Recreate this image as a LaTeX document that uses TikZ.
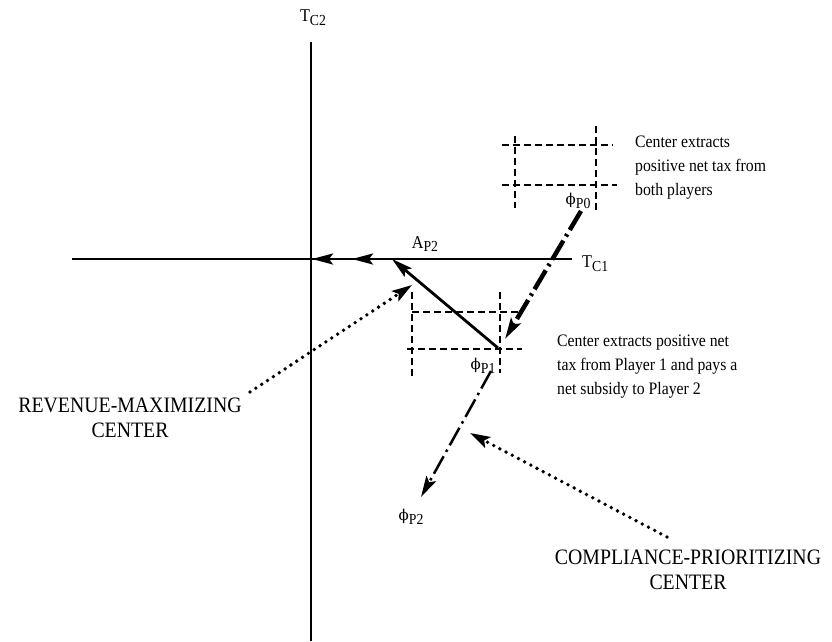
\documentclass[tikz,border=0pt]{standalone}
\usepackage{fontspec}
\setmainfont{Liberation Serif}[FakeStretch=0.9]
\newfontfamily\grk{DejaVu Serif}
\usepackage{graphicx}
\usetikzlibrary{arrows.meta}
\newcommand{\sbs}[1]{\raisebox{-0.45ex}{\scalebox{0.85}{#1}}}
\newcommand{\ph}{{\grk\fontsize{15}{15}\selectfont ϕ}}
\tikzset{
  tip/.style={-{Stealth[length=21pt,width=11pt,inset=4pt]}},
  axis/.style={line width=2.8pt},
  grid/.style={line width=2.5pt, dash pattern=on 7pt off 4pt},
  move/.style={line width=4.5pt, dash pattern=on 22pt off 5pt on 2.5pt off 5pt, tip},
  movethin/.style={line width=2.5pt, dash pattern=on 20pt off 5pt on 2.5pt off 5pt, tip},
  hint/.style={line width=3.8pt, line cap=round, dash pattern=on 0pt off 7pt,
               -{Stealth[length=20pt,width=12pt,inset=4pt]}},
  lbl/.style={font=\fontsize{18}{20}\selectfont, inner sep=0pt},
  note/.style={font=\fontsize{17.5}{24}\selectfont, align=left, inner sep=0pt, anchor=north west},
  caps/.style={font=\fontsize{22}{25}\selectfont, align=center, inner sep=0pt, anchor=north},
}
\begin{document}
\begin{tikzpicture}[x=1pt,y=-1pt]
  \useasboundingbox (0,0) rectangle (832,641);
  % axes
  \coordinate (xl) at (72,259);
  \coordinate (xr) at (572,259);
  \coordinate (yt) at (311,42);
  \coordinate (yb) at (311,641);
  \coordinate (o) at (312,259);
  \coordinate (m1) at (352,259);
  \coordinate (ap2) at (392,259);
  \draw[axis] (xl) -- (xr);
  \draw[axis] (yt) -- (yb);
  \node[lbl] (tc2) at (313,18) {T\sbs{C2}};
  \node[lbl,anchor=west] (tc1) at (582,264) {T\sbs{C1}};
  \node[lbl] (lap2) at (425,244) {A\sbs{P2}};
  \draw[axis,tip] (ap2) -- (m1);
  \draw[axis,tip] (m1) -- (o);
  % upper box around phi_P0
  \draw[grid] (515,136) -- (515,208);
  \draw[grid] (596,126) -- (596,211);
  \draw[grid] (502,145) -- (613,145);
  \draw[grid] (502,185) -- (617,185);
  \node[lbl] (lp0) at (578,201) {\ph\sbs{P0}};
  % lower box around phi_P1
  \draw[grid] (412,292) -- (412,378);
  \draw[grid] (500,292) -- (500,373);
  \draw[grid] (412,312) -- (521,312);
  \draw[grid] (407,349) -- (522,349);
  \node[lbl] (lp1) at (483,366) {\ph\sbs{P1}};
  \node[lbl] (lp2) at (411,517) {\ph\sbs{P2}};
  % moves
  \coordinate (p0s) at (581,211);
  \coordinate (p1t) at (505,339);
  \coordinate (p1) at (498,348);
  \coordinate (p1s) at (491,371);
  \coordinate (p2) at (421,497);
  \draw[move] (p0s) -- (p1t);
  \draw[movethin] (p1s) -- (p2);
  \draw[axis,tip] (p1) -- (ap2);
  % notes
  \node[note] (n0) at (635,136) {Center extracts\\positive net tax from\\both players};
  \node[note] (n1) at (557,335) {Center extracts positive net\\tax from Player 1 and pays a\\net subsidy to Player 2};
  \node[caps] (rev) at (130,398) {REVENUE-MAXIMIZING\\CENTER};
  \node[caps] (comp) at (688,550) {COMPLIANCE-PRIORITIZING\\CENTER};
  \coordinate (revs) at (250,392);
  \coordinate (revt) at (412,285);
  \coordinate (comps) at (667,537);
  \coordinate (compt) at (470,433);
  \draw[hint] (revs) -- (revt);
  \draw[hint] (comps) -- (compt);
\end{tikzpicture}
\end{document}
